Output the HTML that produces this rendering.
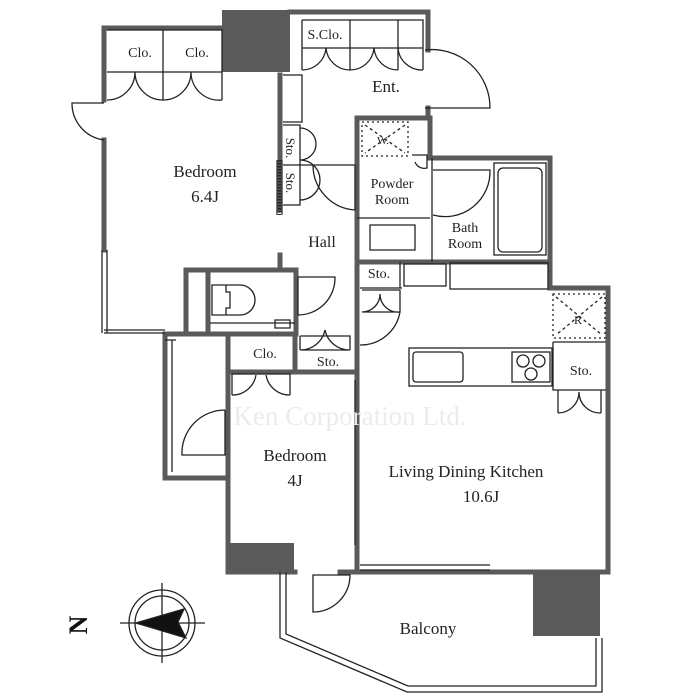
<!DOCTYPE html>
<html><head><meta charset="utf-8"><style>
html,body{margin:0;padding:0;background:#fff;width:700px;height:700px;overflow:hidden}
text{font-family:"Liberation Serif",serif;fill:#222}
</style></head><body>
<svg width="700" height="700" viewBox="0 0 700 700" xmlns="http://www.w3.org/2000/svg">
<g stroke="#5a5a5a" stroke-width="5" fill="none" stroke-linecap="square">
 <path d="M104 28 H224"/>
 <path d="M104 28 V100"/><path d="M104 140 V250"/>
 <path d="M165 334 H295"/>
 <path d="M290 12 H428 V50"/><path d="M428 108 V118 H357 V268"/>
 <path d="M280 75 V210"/><path d="M280 255 V270"/>
 <path d="M430 118 V158 H550 V288 H608 V572"/>
 <path d="M357 262 H550"/>
 <path d="M357 268 V572"/>
 <path d="M186 270 H296 V334"/><path d="M186 270 V334"/><path d="M208 270 V334"/>
 <path d="M165 334 V478 H228"/>
 <path d="M228 334 V572 H295"/>
 <path d="M295 334 V372"/><path d="M228 372 H357"/>
 <path d="M340 572 H357 H608"/>
</g>
<g fill="#5a5a5a">
 <rect x="222" y="10" width="68" height="62"/>
 <rect x="228" y="543" width="66" height="30"/>
 <rect x="533" y="572" width="67" height="64"/>
</g>
<g stroke="#222" stroke-width="1.3" fill="none">
 <path d="M277 160 V215 M282 160 V215" stroke="#333"/>
 <path d="M279.5 160 V215" stroke-dasharray="1.5 1.5" stroke-width="3"/>
 <path d="M102 250 V333 M107 250 V333 M104 333 H165 M104 330 H165"/>
 <path d="M360 565 H490 M360 570 H490"/>
 <path d="M107 30 H222 V100 M107 72 H222 M163 30 V100"/>
 <path d="M107 100 A28 28 0 0 0 135 72 M163 100 A28 28 0 0 1 135 72"/>
 <path d="M163 100 A28 28 0 0 0 191 72 M222 100 A28 28 0 0 1 191 72"/>
 <path d="M104 103 H72 A37 37 0 0 0 104 140"/>
 <path d="M302 20 H423 V70 M302 20 V70 M302 48 H423 M350 20 V70 M398 20 V70"/>
 <path d="M302 70 A24 24 0 0 0 326 48 M350 70 A24 24 0 0 1 326 48 M350 70 A24 24 0 0 0 374 48 M398 70 A24 24 0 0 1 374 48 M398 48 A24 24 0 0 0 423 70"/>
 <path d="M425 50 A58 58 0 0 1 490 108 H425"/>
 <path d="M283 75 H302 V122 H283"/>
 <path d="M283 125 H300 V205 H283 M283 165 H355"/>
 <path d="M300 128 A16 16 0 0 1 300 160 A16 16 0 0 1 300 200"/>
 <path d="M313 165 A45 45 0 0 0 355 210 V165"/>
 <rect x="362" y="122" width="46" height="34" stroke-dasharray="2 3"/>
 <path d="M365 125 L405 153 M405 125 L365 153" stroke-dasharray="3 3"/>
 <path d="M412 155 H427 V168 A10 10 0 0 1 415 162"/>
 <path d="M357 218 H430 M370 225 H415 V250 H370 Z"/>
 <path d="M433 170 H490 A45 45 0 0 1 433 215"/>
 <rect x="494" y="163" width="52" height="92"/>
 <rect x="498" y="168" width="44" height="84" rx="5"/>
 <path d="M432 262 V158"/>
 <rect x="404" y="264" width="42" height="22"/><rect x="450" y="263" width="98" height="26"/>
 <path d="M360 288 H402 M400 262 V288"/>
 <path d="M362 290 H400 V312 M362 312 H400 M362 312 A18 18 0 0 0 380 294 M400 312 A18 18 0 0 1 380 294"/>
 <path d="M400 312 A40 40 0 0 1 360 345"/>
 <rect x="553" y="294" width="52" height="44" stroke-dasharray="2 3"/>
 <path d="M556 297 L602 335 M602 297 L556 335" stroke-dasharray="3 3"/>
 <rect x="409" y="348" width="143" height="38"/>
 <rect x="413" y="352" width="50" height="30" rx="3"/>
 <rect x="512" y="352" width="38" height="30"/>
 <circle cx="523" cy="361" r="6"/><circle cx="539" cy="361" r="6"/><circle cx="531" cy="374" r="6"/>
 <path d="M553 342 H606 M553 342 V390 H606 M558 390 V413 M601 390 V413 M558 413 A21 21 0 0 0 579 392 M601 413 A21 21 0 0 1 579 392"/>
 <path d="M212 285 H226 V292 H230 V308 H226 V315 H212 Z M226 285 H240 A15 15 0 0 1 240 315 H226"/>
 <path d="M210 323 H295 M275 320 H290 V328 H275 Z"/>
 <path d="M298 277 H335 A37 37 0 0 1 298 315 Z"/>
 <path d="M300 336 H350 V350 M300 350 V336 M300 350 H350 M300 350 A25 25 0 0 0 325 330 M350 350 A25 25 0 0 1 325 330"/>
 <path d="M232 374 H290 V395 M232 374 V395 M232 395 A24 24 0 0 0 256 375 M290 395 A24 24 0 0 1 266 375"/>
 <path d="M225 410 V455 H182 A43 43 0 0 1 225 410"/>
 <path d="M172 340 V472 M165 340 H176"/>
 <path d="M355 380 V545"/>
 <path d="M313 575 H350 A37 37 0 0 1 313 612 Z"/>
 <path d="M280 572 V638 L407 692 H602 V638 M286 572 V634 L408 686 H596 V638"/>
 <circle cx="162" cy="623" r="33"/><circle cx="162" cy="623" r="27"/>
 <path d="M162 583 V663 M120 623 H205"/>
 <path d="M136 623 L184 609"/>
 <path d="M136 623 L184 609 L178 622 L186 638 Z" fill="#111"/>
</g>
<g font-size="16" text-anchor="middle">
 <text x="140" y="57" font-size="14">Clo.</text>
 <text x="197" y="57" font-size="14">Clo.</text>
 <text x="325" y="39" font-size="14">S.Clo.</text>
 <text x="386" y="92" font-size="17">Ent.</text>
 <text x="0" y="0" font-size="13" transform="translate(286,148) rotate(90)">Sto.</text>
 <text x="0" y="0" font-size="13" transform="translate(286,183) rotate(90)">Sto.</text>
 <text x="205" y="177" font-size="17">Bedroom</text><text x="205" y="202" font-size="17">6.4J</text>
 <text x="383" y="144" font-size="11">W.</text>
 <text x="392" y="188" font-size="14">Powder</text><text x="392" y="204" font-size="14">Room</text>
 <text x="465" y="232" font-size="14">Bath</text><text x="465" y="248" font-size="14">Room</text>
 <text x="322" y="247">Hall</text>
 <text x="379" y="278" font-size="14">Sto.</text>
 <text x="578" y="324" font-size="12">R</text>
 <text x="265" y="358" font-size="14">Clo.</text>
 <text x="328" y="366" font-size="14">Sto.</text>
 <text x="581" y="375" font-size="14">Sto.</text>
 <text x="295" y="461" font-size="17">Bedroom</text><text x="295" y="486" font-size="17">4J</text>
 <text x="466" y="477" font-size="17">Living Dining Kitchen</text><text x="481" y="502" font-size="17">10.6J</text>
 <text x="428" y="634" font-size="17">Balcony</text>
 <text x="350" y="425" font-size="27" style="fill:#ececec" font-family="Liberation Sans">Ken Corporation Ltd.</text>
 <text x="0" y="0" font-size="26" font-weight="bold" transform="translate(87,625) rotate(-90)" style="fill:#111">N</text>
</g>
</svg>
</body></html>
